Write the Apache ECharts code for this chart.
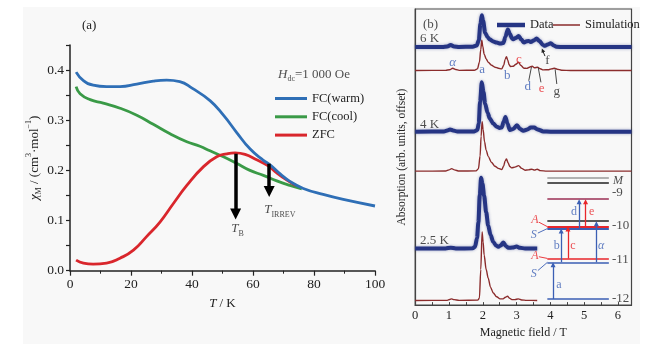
<!DOCTYPE html>
<html>
<head>
<meta charset="utf-8">
<title>Susceptibility and HFEPR</title>
<script src="https://cdn.jsdelivr.net/npm/echarts@6/dist/echarts.min.js"></script>
<style>
    html, body { margin: 0; padding: 0; background: #fff; }
    #main { width: 655px; height: 344px; }
</style>
</head>
<body>
<div id="main"></div>
<script>
// ---- (a) chi_M vs T, Hdc = 1000 Oe ----
var tWarm   = [2, 4.4, 7.6, 12, 16.4, 21.9, 27.3, 31.7, 36, 40, 45.9, 50.3, 54.6, 59, 63.4, 65.6, 68.9, 72.1, 76.5, 83, 89.6, 100];
var chiWarm = [0.396, 0.379, 0.370, 0.367, 0.367, 0.372, 0.378, 0.380, 0.377, 0.364, 0.339, 0.310, 0.276, 0.243, 0.220, 0.211, 0.193, 0.178, 0.164, 0.152, 0.142, 0.129];
var tCool   = [2, 3.3, 6.6, 10.9, 16.4, 21.9, 27.3, 32.8, 38.3, 42.6, 45.9, 50.3, 54.6, 59, 63.4, 67.8, 72.1, 76];
var chiCool = [0.367, 0.353, 0.341, 0.334, 0.324, 0.310, 0.292, 0.273, 0.257, 0.248, 0.239, 0.227, 0.214, 0.200, 0.190, 0.179, 0.170, 0.163];
var tZfc    = [2, 4.4, 7.6, 12, 16.4, 20.8, 25.1, 29.5, 33.9, 38.3, 43.7, 48.1, 51.4, 54.1, 57.4, 61.2, 65, 67.8, 71, 74];
var chiZfc  = [0.021, 0.015, 0.013, 0.015, 0.025, 0.041, 0.068, 0.097, 0.134, 0.170, 0.207, 0.227, 0.233, 0.235, 0.232, 0.221, 0.209, 0.195, 0.181, 0.170];
var tB = 54.3, tIrrev = 65.3;

// ---- (b) absorption spectra, [field / T, offset absorption] ----
var data6K = [[0,265.5],[0.8,265.5],[0.95,266],[1.05,267.5],[1.15,266],[1.3,265.5],[1.7,265.8],[1.82,267],[1.88,272],[1.93,289],[1.97,297.7],[2.01,292],[2.07,280],[2.14,275.5],[2.21,273],[2.31,271],[2.41,270],[2.52,269],[2.61,269.5],[2.67,276],[2.74,283.3],[2.8,279],[2.86,274.5],[2.9,273.3],[2.97,274.5],[3.06,276.7],[3.14,273],[3.22,270],[3.3,271.3],[3.35,271.7],[3.42,270.5],[3.5,272],[3.59,274],[3.68,271.5],[3.78,267.5],[3.84,266.7],[3.92,268],[4.01,269.3],[4.1,267],[4.18,265.7],[4.4,265.5],[6.4,265.5]];
var sim6K  = [[0,241.7],[0.9,241.8],[1.02,242.5],[1.11,244],[1.2,242.7],[1.3,241.8],[1.75,242],[1.84,243.3],[1.9,250],[1.94,263],[1.97,272.3],[2.0,266],[2.04,258.3],[2.1,253.5],[2.16,250],[2.26,247],[2.36,245],[2.46,244],[2.56,243.3],[2.62,247],[2.66,253],[2.7,255.7],[2.74,252],[2.78,247.5],[2.82,245.7],[2.9,246],[2.98,248],[3.06,250],[3.12,247],[3.22,244],[3.3,243.8],[3.38,245],[3.46,246],[3.53,244.5],[3.62,245],[3.7,243.5],[3.79,242.3],[3.95,242.5],[4.05,243.5],[4.12,244],[4.2,243],[4.33,242],[4.6,241.7],[6.4,241.7]];
var data4K = [[0,179.7],[0.85,179.8],[0.95,181],[1.03,182],[1.12,181],[1.25,179.8],[1.75,180],[1.84,181.5],[1.88,188],[1.92,210],[1.97,229.7],[2.02,220],[2.07,208],[2.14,199],[2.21,193],[2.31,188],[2.41,184.7],[2.5,183.5],[2.56,184],[2.62,190],[2.67,194.7],[2.73,188],[2.8,181.3],[2.9,182.5],[3.01,186.3],[3.1,182.5],[3.2,180.7],[3.32,182],[3.42,184],[3.52,184],[3.62,182],[3.79,180],[4.0,179.7],[6.4,179.7]];
var sim4K  = [[0,139.7],[0.9,139.8],[1.0,141],[1.08,142.3],[1.16,141],[1.3,139.8],[1.8,140],[1.87,142],[1.92,155],[1.95,175],[1.98,189.7],[2.01,182],[2.05,169.7],[2.1,161],[2.16,154.7],[2.26,148.5],[2.36,144.7],[2.46,142.5],[2.56,141.3],[2.62,145],[2.66,150],[2.7,152],[2.75,148],[2.8,144.5],[2.85,143],[2.95,143.8],[3.06,145.3],[3.15,142.5],[3.25,140.7],[3.35,141],[3.45,141.7],[3.53,140.8],[3.61,141.7],[3.7,140.2],[3.9,139.7],[6.4,139.7]];
var data25K = [[0,61.3],[0.9,61.4],[1.05,62.2],[1.2,61.4],[1.7,61.5],[1.77,63],[1.83,72],[1.87,88],[1.91,115],[1.95,133],[1.99,127],[2.04,114.7],[2.1,98],[2.16,84.7],[2.23,75],[2.31,68],[2.39,64.5],[2.46,63],[2.53,64.5],[2.61,67.3],[2.68,64],[2.76,62],[2.88,62.3],[3.0,63.3],[3.1,62],[3.25,61.4],[3.61,61.3]];
var sim25K  = [[0,8.7],[0.95,8.8],[1.02,9.6],[1.08,10.3],[1.15,9.5],[1.3,8.8],[1.85,9],[1.9,11],[1.94,40],[1.98,78],[2.01,68],[2.04,54.7],[2.1,40],[2.16,31.3],[2.23,22],[2.31,16.3],[2.41,12.5],[2.51,10.3],[2.6,10.3],[2.67,12],[2.73,13],[2.8,10.8],[2.86,9.5],[2.95,9.5],[3.05,10.3],[3.15,9.2],[3.3,8.8],[3.61,8.7]];

// ---- (b) inset: spin levels and transitions ----
var levelSpan   = [3.91, 5.73];
var levelY      = [133, 127.7, 111.3, 89, 83.5, 81.5, 51.3, 47.3, 10.3];
var levelKind   = ['grey', 'black', 'mix', 'black', 'A', 'S', 'A', 'S', 'S'];
var levelNames  = ['-9', '-10', '-11', '-12'];
var levelNameY  = [118, 85, 50.3, 11];
var transNames  = ['a', 'b', 'c', 'α', 'd', 'e'];
var transField  = [4.08, 4.32, 4.52, 5.36, 4.85, 5.04];
var transFrom   = [10.3, 47.3, 51.3, 47.3, 81.5, 83.5];
var transTo     = [47.3, 81.5, 83.5, 89, 111.3, 111.3];

var SERIF = '"Liberation Serif", "Times New Roman", serif';
var BLUE = '#2f6fb6', GREEN = '#3a9a47', RED = '#d9262c';
var NAVY = '#263584', WINE = '#8b2c2c';
var LBLUE = '#3b5fb4', LRED = '#e8262b';

function zip(xs, ys) {
    return xs.map(function (x, i) { return [x, ys[i]]; });
}

var rich = {
    i:   { fontStyle: 'italic', fontFamily: SERIF, fontSize: 13, lineHeight: 18 },
    n:   { fontFamily: SERIF, fontSize: 13, lineHeight: 18 },
    sub: { fontFamily: SERIF, fontSize: 8, verticalAlign: 'bottom', lineHeight: 18 },
    sup: { fontFamily: SERIF, fontSize: 8, verticalAlign: 'top', lineHeight: 18 }
};

function lbl(x, y, text, color, size, align, italic) {
    return {
        value: [x, y],
        label: {
            formatter: text, color: color || '#222', fontSize: size || 13,
            align: align || 'center', fontStyle: italic ? 'italic' : 'normal'
        }
    };
}

var levelColor = { grey: '#9a9a9a', black: '#222', mix: '#9b2f55', A: LRED, S: LBLUE };
var levelLines = levelY.map(function (y, i) {
    return { coords: [[levelSpan[0], y], [levelSpan[1], y]],
             lineStyle: { color: levelColor[levelKind[i]], width: (y > 80 && y < 85) ? 2 : 1.5 } };
});
var transLines = transNames.map(function (n, i) {
    var red = (n === 'c' || n === 'e');
    return { coords: [[transField[i], transFrom[i]], [transField[i], transTo[i] - 2.5]],
             lineStyle: { color: red ? LRED : LBLUE } };
});

var textSeries = {
    type: 'scatter', symbol: 'circle', symbolSize: 1, silent: true, clip: false, z: 10,
    itemStyle: { color: 'rgba(0,0,0,0)' },
    label: { show: true, position: 'inside', fontFamily: SERIF, rich: rich }
};

var panelBLabels = [
    lbl(0.23, 288, '(b)', '#222', 13, 'left'),
    lbl(0.14, 274, '6 K', '#222', 13, 'left'),
    lbl(0.14, 187, '4 K', '#222', 13, 'left'),
    lbl(0.14, 69, '2.5 K', '#222', 13, 'left'),
    lbl(1.11, 249.7, 'α', LBLUE, 13, 'center', true),
    lbl(1.98, 242.3, 'a', LBLUE, 13),
    lbl(2.72, 237, 'b', LBLUE, 13),
    lbl(3.07, 253, 'c', LRED, 13),
    lbl(3.33, 225.7, 'd', LBLUE, 13),
    lbl(3.74, 223.7, 'e', LRED, 13),
    lbl(4.19, 220.3, 'g', '#222', 13),
    lbl(3.91, 251.3, 'f', '#222', 13),
    lbl(6.0, 130.3, 'M', '#222', 12, 'center', true),
    lbl(3.54, 90, 'A', LRED, 12, 'center', true),
    lbl(3.51, 75, 'S', LBLUE, 12, 'center', true),
    lbl(3.54, 54, 'A', LRED, 12, 'center', true),
    lbl(3.51, 36, 'S', LBLUE, 12, 'center', true),
    lbl(4.25, 25, 'a', LBLUE, 12),
    lbl(4.19, 64, 'b', LBLUE, 12),
    lbl(4.67, 64, 'c', LRED, 12),
    lbl(5.5, 64, 'α', LBLUE, 12, 'center', true),
    lbl(4.70, 98, 'd', LBLUE, 12),
    lbl(5.22, 98, 'e', LRED, 12)
];
levelNames.forEach(function (n, i) {
    panelBLabels.push(lbl(5.82, levelNameY[i], n, '#222', 13, 'left'));
});

var leaders = [
    { coords: [[3.36, 231.3], [3.44, 245.3]], lineStyle: { color: '#333' } },
    { coords: [[3.72, 229.7], [3.64, 244.7]], lineStyle: { color: '#333' } },
    { coords: [[4.19, 228], [4.14, 243]], lineStyle: { color: '#333' } },
    { coords: [[3.66, 88], [3.91, 83.5]], lineStyle: { color: LRED } },
    { coords: [[3.63, 77], [3.91, 81.5]], lineStyle: { color: LBLUE } },
    { coords: [[3.66, 53], [3.91, 51.3]], lineStyle: { color: LRED } },
    { coords: [[3.63, 39], [3.91, 47.3]], lineStyle: { color: LBLUE } }
];

function spec(name, data, isData) {
    return {
        name: name, type: 'line', xAxisIndex: 1, yAxisIndex: 1, data: data,
        smooth: 0.3, smoothMonotone: 'x', symbol: 'none', z: isData ? 3 : 4,
        lineStyle: isData
            ? { color: NAVY, width: 4, shadowColor: 'rgba(38,53,132,0.45)', shadowBlur: 3 }
            : { color: WINE, width: 1.4 },
        itemStyle: { color: isData ? NAVY : WINE }
    };
}

var legendText = { fontFamily: SERIF, fontSize: 12.5, color: '#222', lineHeight: 15 };

var chart = echarts.init(document.getElementById('main'), null, { renderer: 'canvas' });
var option = {
    backgroundColor: '#ffffff',
    animation: false,
    textStyle: { fontFamily: SERIF },
    graphic: [
        { type: 'rect', z: -10, silent: true, shape: { x: 23, y: 7, width: 617, height: 337 },
          style: { fill: '#f8f8f8' } },
        { type: 'text', left: 82, top: 19, silent: true,
          style: { text: '(a)', font: '13px ' + SERIF, fill: '#222' } }
    ],
    legend: [
        { data: ['FC(warm)', 'FC(cool)', 'ZFC'], orient: 'vertical', left: 270, top: 86,
          icon: 'rect', itemWidth: 32, itemHeight: 3, itemGap: 3.3, textStyle: legendText },
        { data: ['Data'], left: 492, top: 12.5, icon: 'rect', itemWidth: 28, itemHeight: 4.5,
          textStyle: legendText },
        { data: ['Simulation'], left: 548, top: 12.5, icon: 'rect', itemWidth: 27, itemHeight: 1.5,
          textStyle: legendText }
    ],
    grid: [
        { left: 70, top: 45, width: 305, height: 225.7 },
        { left: 415.2, top: 9, width: 216.3, height: 300, show: true,
          borderColor: '#444', borderWidth: 1.2 }
    ],
    xAxis: [
        { gridIndex: 0, type: 'value', min: 0, max: 100, interval: 20,
          name: '{i|T} {n|/ K}', nameLocation: 'middle', nameGap: 10,
          nameTextStyle: { rich: rich },
          axisLine: { lineStyle: { color: '#222', width: 1.5 } },
          axisTick: { length: 5, lineStyle: { color: '#222', width: 1.2 } },
          minorTick: { show: true, splitNumber: 2, length: 3, lineStyle: { color: '#222' } },
          axisLabel: { color: '#222', fontSize: 13.5, fontFamily: SERIF, margin: 7 },
          splitLine: { show: false } },
        { gridIndex: 1, type: 'value', min: 0, max: 6.4, interval: 0.5,
          name: 'Magnetic field / T', nameLocation: 'middle', nameGap: 16,
          nameTextStyle: { fontFamily: SERIF, fontSize: 12, color: '#222' },
          axisLine: { lineStyle: { color: '#444', width: 1.2 } },
          axisTick: { inside: true, length: 3, lineStyle: { color: '#444' } },
          axisLabel: { color: '#222', fontSize: 12.5, fontFamily: SERIF, margin: 4,
              formatter: function (v) { return (Math.abs(v - Math.round(v)) < 1e-6 && v <= 6) ? String(Math.round(v)) : ''; } },
          splitLine: { show: false } }
    ],
    yAxis: [
        { gridIndex: 0, type: 'value', min: 0, max: 0.45, interval: 0.05,
          name: '{i|χ}{sub|M}{n| / (cm}{sup|3}{n|·mol}{sup|−1}{n|)}',
          nameLocation: 'middle', nameGap: 26, nameRotate: 90,
          nameTextStyle: { rich: rich },
          axisLine: { show: true, lineStyle: { color: '#222', width: 1.5 } },
          axisTick: { length: 4, lineStyle: { color: '#222', width: 1.2 } },
          axisLabel: { color: '#222', fontSize: 13.5, fontFamily: SERIF, margin: 6,
              formatter: function (v) {
                  var k = Math.round(v * 100);
                  return (k % 10 === 0 && k <= 40) ? (k / 100).toFixed(1) : '';
              } },
          splitLine: { show: false } },
        { gridIndex: 1, type: 'value', min: 4, max: 304,
          name: 'Absorption (arb. units, offset)', nameLocation: 'middle', nameGap: 7,
          nameTextStyle: { fontFamily: SERIF, fontSize: 11.5, color: '#222' },
          axisLine: { show: true, lineStyle: { color: '#444', width: 1.2 } },
          axisTick: { show: false }, axisLabel: { show: false },
          splitLine: { show: false } }
    ],
    series: [
        { name: 'FC(cool)', type: 'line', xAxisIndex: 0, yAxisIndex: 0, smooth: true, symbol: 'none',
          data: zip(tCool, chiCool), lineStyle: { color: GREEN, width: 2.8 }, itemStyle: { color: GREEN } },
        { name: 'ZFC', type: 'line', xAxisIndex: 0, yAxisIndex: 0, smooth: true, symbol: 'none',
          data: zip(tZfc, chiZfc), lineStyle: { color: RED, width: 2.8 }, itemStyle: { color: RED } },
        { name: 'FC(warm)', type: 'line', xAxisIndex: 0, yAxisIndex: 0, smooth: true, symbol: 'none',
          data: zip(tWarm, chiWarm), lineStyle: { color: BLUE, width: 2.8 }, itemStyle: { color: BLUE } },
        { type: 'lines', coordinateSystem: 'cartesian2d', xAxisIndex: 0, yAxisIndex: 0, silent: true, z: 6,
          symbol: ['none', 'triangle'], symbolSize: 11,
          lineStyle: { color: '#000', width: 3.5, opacity: 1, curveness: 0 },
          data: [ { coords: [[tB, 0.233], [tB, 0.113]] },
                  { coords: [[tIrrev, 0.213], [tIrrev, 0.158]] } ] },
        Object.assign({}, textSeries, { xAxisIndex: 0, yAxisIndex: 0, data: [
            lbl(54.9, 0.084, '{i|T}{sub|B}'),
            lbl(68.8, 0.121, '{i|T}{sub|IRREV}'),
            lbl(80, 0.392, '{i|H}{sub|dc}{n|=1 000 Oe}')
        ] }),

        spec('Data', data6K, true),
        spec('Simulation', sim6K, false),
        spec('Data', data4K, true),
        spec('Simulation', sim4K, false),
        spec('Data', data25K, true),
        spec('Simulation', sim25K, false),
        { type: 'lines', coordinateSystem: 'cartesian2d', xAxisIndex: 1, yAxisIndex: 1, silent: true, z: 5,
          symbol: 'none', lineStyle: { width: 1.5, opacity: 1, curveness: 0 }, data: levelLines },
        { type: 'lines', coordinateSystem: 'cartesian2d', xAxisIndex: 1, yAxisIndex: 1, silent: true, z: 6,
          symbol: ['none', 'triangle'], symbolSize: 5,
          lineStyle: { width: 1.3, opacity: 1, curveness: 0 }, data: transLines },
        { type: 'lines', coordinateSystem: 'cartesian2d', xAxisIndex: 1, yAxisIndex: 1, silent: true, z: 6,
          symbol: 'none', lineStyle: { width: 0.9, opacity: 1, curveness: 0 }, data: leaders },
        { type: 'lines', coordinateSystem: 'cartesian2d', xAxisIndex: 1, yAxisIndex: 1, silent: true, z: 6,
          symbol: ['none', 'triangle'], symbolSize: 4,
          lineStyle: { width: 1, color: '#222', opacity: 1, curveness: 0 },
          data: [ { coords: [[3.84, 256.3], [3.77, 262]] } ] },
        Object.assign({}, textSeries, { xAxisIndex: 1, yAxisIndex: 1, data: panelBLabels })
    ]
};
chart.setOption(option);
</script>
</body>
</html>
